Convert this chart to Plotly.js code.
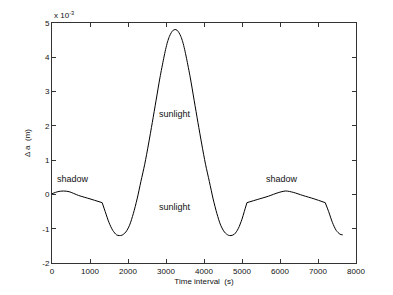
<!DOCTYPE html>
<html>
<head>
<meta charset="utf-8">
<script src="https://cdn.plot.ly/plotly-3.0.1.min.js"></script>
<style>
html,body{margin:0;padding:0;background:#fff;}
#chart{width:393px;height:295px;}
</style>
</head>
<body>
<div id="chart"></div>
<script>
// Time interval (s)
const timeSec = [0, 150, 300, 450, 700, 1000, 1320, 1400, 1500, 1600, 1700, 1770,
  1840, 1940, 2040, 2140, 2240, 2340, 2440, 2540, 2640, 2740, 2840, 2940, 2990, 3040, 3090, 3140, 3190,
  3240, 3290, 3340, 3390, 3440, 3490, 3540, 3640, 3740, 3840, 3940, 4040, 4140, 4240, 4340, 4440, 4540, 4640, 4710,
  4800, 4900, 5000, 5060, 5130,
  5400, 5700, 5950, 6150, 6350, 6600, 6900, 7190, 7280, 7380, 7480, 7580, 7650];
// Δa (x 10^-3 m)
const deltaA = [0.02, 0.08, 0.10, 0.08, -0.03, -0.13, -0.24, -0.50, -0.82, -1.05, -1.18, -1.20,
  -1.19, -1.10, -0.90, -0.56, -0.13, 0.38, 0.88, 1.47, 2.10, 2.75, 3.40, 3.97, 4.23, 4.45, 4.61, 4.72, 4.79,
  4.81, 4.79, 4.72, 4.61, 4.45, 4.23, 3.97, 3.40, 2.75, 2.10, 1.47, 0.88, 0.38, -0.13, -0.56, -0.90, -1.10, -1.19, -1.20,
  -1.16, -1.00, -0.72, -0.50, -0.24,
  -0.15, -0.05, 0.05, 0.10, 0.06, -0.03, -0.13, -0.24, -0.50, -0.82, -1.05, -1.16, -1.18];
// times where the curve switches between shadow and sunlight (sharp corners)
const switchTimes = [1320, 5130, 7190];

const labelText = ["shadow", "sunlight", "sunlight", "shadow"];
const labelX = [560, 3237, 3245, 6060];
const labelY = [0.44, 2.36, -0.36, 0.44];

const xTicks = [0, 1000, 2000, 3000, 4000, 5000, 6000, 7000, 8000];
const yTicks = [-2, -1, 0, 1, 2, 3, 4, 5];

const fontFam = 'Liberation Sans, Arial, sans-serif';

// split the series into segments at the switch times; each segment is smoothed on its own
const cutIdx = [0].concat(switchTimes.map(t => timeSec.indexOf(t)), [timeSec.length - 1]);
const traces = [];
for (let s = 0; s < cutIdx.length - 1; s++) {
  const a = cutIdx[s], b = cutIdx[s + 1];
  traces.push({
    x: timeSec.slice(a, b + 1), y: deltaA.slice(a, b + 1),
    type: 'scatter', mode: 'lines',
    line: {color: '#000', width: 1, shape: 'spline', smoothing: 0.8},
    hoverinfo: 'skip'
  });
}

const annotations = labelText.map((t, i) => ({
  x: labelX[i], y: labelY[i], xref: 'x', yref: 'y', text: t, showarrow: false,
  font: {family: fontFam, size: 9, color: '#111'}
}));
annotations.push({
  x: 0, y: 1.0, xref: 'paper', yref: 'paper', xanchor: 'left', yanchor: 'bottom',
  yshift: 1, text: 'x 10<sup>-3</sup>', showarrow: false,
  font: {family: fontFam, size: 8, color: '#111'}
});

const axisCommon = {
  showgrid: false, zeroline: false, showline: true, linecolor: '#333', linewidth: 1,
  mirror: 'allticks', ticks: 'inside', ticklen: 4, tickcolor: '#333', tickwidth: 1,
  tickfont: {family: fontFam, size: 8, color: '#111'}
};

const layout = {
  width: 393, height: 295,
  margin: {l: 52, r: 37, t: 23, b: 32},
  paper_bgcolor: '#fff', plot_bgcolor: '#fff',
  showlegend: false,
  xaxis: Object.assign({}, axisCommon, {
    range: [0, 8000], tickvals: xTicks, ticktext: xTicks.map(String),
    title: {text: 'Time interval  (s)', font: {family: fontFam, size: 8, color: '#111'}, standoff: 3}
  }),
  yaxis: Object.assign({}, axisCommon, {
    range: [-2, 5], tickvals: yTicks, ticktext: yTicks.map(String),
    title: {text: 'Δ a  (m)', font: {family: fontFam, size: 8, color: '#111'}, standoff: 10}
  }),
  annotations: annotations
};

Plotly.newPlot('chart', traces, layout, {staticPlot: true, displayModeBar: false});
</script>
</body>
</html>
